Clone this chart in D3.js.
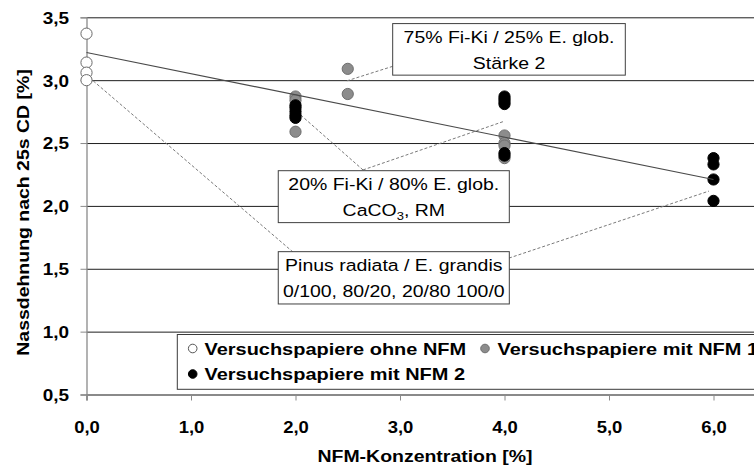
<!DOCTYPE html>
<html>
<head>
<meta charset="utf-8">
<script src="https://cdn.jsdelivr.net/npm/d3@7"></script>
<style>
  html, body { margin: 0; padding: 0; background: #fff; }
  svg { display: block; font-family: "Liberation Sans", Arial, sans-serif; }
</style>
</head>
<body>
<svg id="chart" width="754" height="474"></svg>
<script>
// ---------- data ----------
const xTicks = [0, 1, 2, 3, 4, 5, 6];
const yTicks = [0.5, 1.0, 1.5, 2.0, 2.5, 3.0, 3.5];
const gridValues = [1.0, 1.5, 2.0, 2.5, 3.0, 3.5];

// Versuchspapiere ohne NFM (open)
const ohneX = [0, 0, 0, 0];
const ohneY = [3.37, 3.14, 3.06, 3.00];
// Versuchspapiere mit NFM 1 (grey)
const nfm1X = [2, 2, 2, 2.5, 2.5, 4, 4, 4, 4];
const nfm1Y = [2.87, 2.84, 2.59, 3.09, 2.89, 2.56, 2.50, 2.48, 2.38];
// Versuchspapiere mit NFM 2 (black)
const nfm2X = [2, 2, 2, 2, 2, 4, 4, 4, 4, 4, 4, 6, 6, 6, 6];
const nfm2Y = [2.80, 2.78, 2.75, 2.72, 2.70, 2.87, 2.85, 2.83, 2.81, 2.42, 2.40, 2.38, 2.33, 2.21, 2.04];

// trend line
const trendX = [0, 6];
const trendY = [3.22, 2.21];

const legendLabels = ["Versuchspapiere ohne NFM", "Versuchspapiere mit NFM 1", "Versuchspapiere mit NFM 2"];
const xTitle = "NFM-Konzentration [%]";
const yTitle = "Nassdehnung nach 25s CD [%]";

// annotation boxes (data coordinates: x0, x1, yTop, yBottom) and texts
const noteBoxes = [
  { x0: 2.93, x1: 5.156, y0: 3.45, y1: 3.04, lines: ["75% Fi-Ki / 25% E. glob.", "Stärke 2"] },
  { x0: 1.835, x1: 4.046, y0: 2.28, y1: 1.867, lines: ["20% Fi-Ki / 80% E. glob.", "CaCO|3|, RM"] },
  { x0: 1.835, x1: 4.046, y0: 1.636, y1: 1.22, lines: ["Pinus radiata / E. grandis", "0/100, 80/20, 20/80 100/0"] }
];
// leader lines (data coordinates)
const leaders = [
  [[2.93, 3.11], [2.474, 2.99]],
  [[2.646, 2.286], [2.053, 2.72]],
  [[2.646, 2.286], [3.986, 2.67]],
  [[1.976, 1.633], [0.014, 3.03]],
  [[4.043, 1.585], [5.957, 2.118]]
];

// ---------- layout ----------
const svg = d3.select("#chart");
const W = 754;
const x = d3.scaleLinear().domain([0, 6.4]).range([86.5, 755.3]);
const y = d3.scaleLinear().domain([0.5, 3.5]).range([394.5, 17.3]);
const fmt = d => d.toFixed(1).replace(".", ",");
const SX = 1.18;

// gridlines
const grid = svg.append("g").attr("transform", `translate(${x(0)},0)`)
  .call(d3.axisLeft(y).tickValues(gridValues).tickSize(-(W - x(0))).tickFormat(""));
grid.select(".domain").remove();
grid.selectAll("line").attr("stroke", "#1e1e1e").attr("stroke-width", 1);

// y axis
const yAx = svg.append("g").attr("transform", `translate(${x(0)},0)`)
  .call(d3.axisLeft(y).tickValues(yTicks).tickSize(6).tickFormat(fmt));
yAx.select(".domain").attr("stroke", "#8a8a8a").attr("stroke-width", 1.3);
yAx.selectAll("line").attr("stroke", "#8a8a8a");
yAx.selectAll("text")
  .attr("x", null).attr("dy", "0.36em")
  .attr("transform", `translate(-17.5,0) scale(1.15,1)`)
  .attr("text-anchor", "end")
  .attr("font-size", 16.5).attr("font-weight", "bold").attr("fill", "#000")
  .attr("font-family", "Liberation Sans, Arial, sans-serif");

// x axis
const xAx = svg.append("g").attr("transform", `translate(0,${y(0.5)})`)
  .call(d3.axisBottom(x).tickValues(xTicks).tickSize(6).tickFormat(fmt));
xAx.select(".domain").attr("stroke", "#8a8a8a").attr("stroke-width", 1.8);
xAx.selectAll("line").attr("stroke", "#8a8a8a");
xAx.selectAll("text")
  .attr("y", null).attr("dy", null)
  .attr("transform", `translate(0,38.5) scale(1.12,1)`)
  .attr("font-size", 16.5).attr("font-weight", "bold").attr("fill", "#000")
  .attr("font-family", "Liberation Sans, Arial, sans-serif");

// titles
svg.append("text")
  .attr("transform", `translate(425,461.5) scale(${SX},1)`)
  .attr("text-anchor", "middle").attr("font-size", 16.5).attr("font-weight", "bold")
  .text(xTitle);
svg.append("text")
  .attr("transform", `translate(28.5,212.5) rotate(-90) scale(${SX},1)`)
  .attr("text-anchor", "middle").attr("font-size", 16.5).attr("font-weight", "bold")
  .text(yTitle);

// leader lines
svg.append("g").selectAll("line").data(leaders).join("line")
  .attr("x1", d => x(d[0][0])).attr("y1", d => y(d[0][1]))
  .attr("x2", d => x(d[1][0])).attr("y2", d => y(d[1][1]))
  .attr("stroke", "#7a7a7a").attr("stroke-width", 1).attr("stroke-dasharray", "3,2");

// points
const pts = svg.append("g");
const R = 5.6;
pts.selectAll(".ohne").data(d3.zip(ohneX, ohneY)).join("circle").attr("class", "ohne")
  .attr("cx", d => x(d[0])).attr("cy", d => y(d[1])).attr("r", R)
  .attr("fill", "#fff").attr("stroke", "#6a6a6a").attr("stroke-width", 1);
pts.selectAll(".n1").data(d3.zip(nfm1X, nfm1Y)).join("circle").attr("class", "n1")
  .attr("cx", d => x(d[0])).attr("cy", d => y(d[1])).attr("r", R)
  .attr("fill", "#8c8c8c").attr("stroke", "#6e6e6e").attr("stroke-width", 1);
pts.selectAll(".n2").data(d3.zip(nfm2X, nfm2Y)).join("circle").attr("class", "n2")
  .attr("cx", d => x(d[0])).attr("cy", d => y(d[1])).attr("r", R)
  .attr("fill", "#000").attr("stroke", "#000").attr("stroke-width", 1);

// trend line
svg.append("path")
  .datum(d3.zip(trendX, trendY))
  .attr("d", d3.line().x(d => x(d[0])).y(d => y(d[1])))
  .attr("fill", "none").attr("stroke", "#4a4a4a").attr("stroke-width", 1.1);

// annotation boxes
noteBoxes.forEach(b => {
  const g = svg.append("g");
  const bx = x(b.x0), by = y(b.y0), bw = x(b.x1) - x(b.x0), bh = y(b.y1) - y(b.y0);
  g.append("rect").attr("x", bx).attr("y", by).attr("width", bw).attr("height", bh)
    .attr("fill", "#fff").attr("stroke", "#404040").attr("stroke-width", 1);
  b.lines.forEach((ln, i) => {
    const t = g.append("text")
      .attr("transform", `translate(${bx + bw / 2},${by + 19 + i * 26.6}) scale(${SX},1)`)
      .attr("text-anchor", "middle").attr("font-size", 16.5).attr("fill", "#000");
    const parts = ln.split("|");
    parts.forEach((p, j) => {
      const ts = t.append("tspan").text(p);
      if (j === 1) ts.attr("font-size", 11).attr("dy", 4);
      if (j === 2) ts.attr("dy", -4);
    });
  });
});

// legend
const lg = svg.append("g");
lg.append("rect").attr("x", 177.3).attr("y", 334.5).attr("width", 640).attr("height", 54.8)
  .attr("fill", "#fff").attr("stroke", "#3a3a3a").attr("stroke-width", 1);
const legendItems = [
  { label: legendLabels[0], fill: "#fff", stroke: "#555", cx: 192.7, cy: 348.5, tx: 204.5, ty: 354.5 },
  { label: legendLabels[1], fill: "#8c8c8c", stroke: "#6e6e6e", cx: 485, cy: 348.5, tx: 497.5, ty: 354.5 },
  { label: legendLabels[2], fill: "#000", stroke: "#000", cx: 192.7, cy: 374, tx: 204.5, ty: 380 }
];
legendItems.forEach(it => {
  lg.append("circle").attr("cx", it.cx).attr("cy", it.cy).attr("r", 4.3)
    .attr("fill", it.fill).attr("stroke", it.stroke).attr("stroke-width", 1);
  lg.append("text")
    .attr("transform", `translate(${it.tx},${it.ty}) scale(1.21,1)`)
    .attr("font-size", 16.5).attr("font-weight", "bold").attr("fill", "#000")
    .text(it.label);
});
</script>
</body>
</html>
